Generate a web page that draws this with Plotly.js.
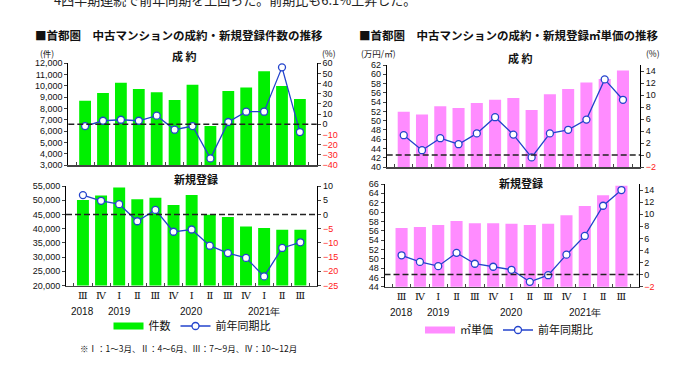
<!DOCTYPE html>
<html><head><meta charset="utf-8">
<script src="https://cdn.plot.ly/plotly-3.0.1.min.js"></script>
<style>html,body{margin:0;padding:0;background:#fff}#chart{width:679px;height:367px}</style>
</head><body><div id="chart"></div>
<script>
// ---- data ----
const categories = ["2018-III","2018-IV","2019-I","2019-II","2019-III","2019-IV","2020-I","2020-II","2020-III","2020-IV","2021-I","2021-II","2021-III"];
const quarterLabels = ["Ⅲ","Ⅳ","Ⅰ","Ⅱ","Ⅲ","Ⅳ","Ⅰ","Ⅱ","Ⅲ","Ⅳ","Ⅰ","Ⅱ","Ⅲ"];
const yearLabels = ["2018","","2019","","","","2020","","","","2021年","",""];

const contractCount    = [8690, 9370, 10280, 9720, 9430, 8750, 10100, 6450, 9550, 9850, 11300, 10000, 8850];
const contractCountYoY = [-1.7, 3.5, 4.5, 3.5, 8.5, -5.3, -1.7, -33.5, 2.3, 12.4, 12.4, 56.0, -7.6];
const listingCount     = [50100, 51700, 54500, 50300, 50900, 48300, 51800, 44900, 44100, 40750, 40250, 39650, 39600];
const listingCountYoY  = [6.8, 4.8, 3.6, -2.4, 1.6, -6.1, -5.3, -11.0, -13.6, -15.3, -21.8, -11.8, -9.8];
const contractPrice    = [51.9, 51.3, 53.1, 52.7, 53.8, 54.5, 54.9, 52.3, 55.7, 56.8, 58.2, 59.0, 60.8];
const contractPriceYoY = [3.3, 0.8, 2.8, 1.8, 3.6, 6.3, 3.4, -0.4, 3.6, 4.2, 5.9, 12.6, 9.2];
const listingPrice     = [56.6, 56.8, 57.2, 58.1, 57.6, 57.6, 57.5, 57.2, 57.5, 59.3, 61.3, 63.6, 65.6];
const listingPriceYoY  = [3.2, 2.1, 1.4, 3.6, 1.8, 1.3, 0.8, -1.2, -0.1, 3.3, 6.4, 11.4, 14.0];

// ---- styles ----
const GREEN = '#00f000', PINK = '#ff8cff', BLUE = '#2343cc';
const JP = '"Noto Sans CJK JP", "Noto Sans", sans-serif';
const NUM = '"Liberation Sans", Arial, sans-serif';
const W = 679, H = 367;
const px = v => v / W, py = v => (H - v) / H;

function range(a, b, s) { const r = []; for (let v = a; v <= b + 1e-9; v += s) r.push(+v.toFixed(6)); return r; }
function pctTicks(vals) {
  return vals.map(v => v < 0 ? '<span style="color:#ff2020">\u2212' + Math.abs(v) + '</span>' : String(v));
}
function barTrace(y, xa, ya, color) {
  return {type:'bar', x:categories, y:y, xaxis:xa, yaxis:ya, marker:{color:color, line:{width:0}}, width:0.66, showlegend:false, hoverinfo:'skip'};
}
function lineTrace(y, xa, ya, legend, show) {
  return {type:'scatter', mode:'lines+markers', x:categories, y:y, xaxis:xa, yaxis:ya, name:'前年同期比',
    line:{color:BLUE, width:1.3}, marker:{symbol:'circle', size:7, color:'#fff', line:{color:BLUE, width:1.3}},
    showlegend:show, legend:legend, cliponaxis:false};
}
function legendSwatch(name, color, legend) {
  return {type:'scatter', mode:'lines', x:[null], y:[null], xaxis:'x', yaxis:'y', name:name,
    line:{color:color, width:7}, showlegend:true, legend:legend};
}

const traces = [
  barTrace(contractCount, 'x', 'y', GREEN),
  lineTrace(contractCountYoY, 'x', 'y2', 'legend', false),
  barTrace(listingCount, 'x2', 'y3', GREEN),
  lineTrace(listingCountYoY, 'x2', 'y4', 'legend', false),
  barTrace(contractPrice, 'x3', 'y5', PINK),
  lineTrace(contractPriceYoY, 'x3', 'y6', 'legend2', false),
  barTrace(listingPrice, 'x4', 'y7', PINK),
  lineTrace(listingPriceYoY, 'x4', 'y8', 'legend2', false),
  legendSwatch('件数', GREEN, 'legend'),
  Object.assign(lineTrace([null], 'x', 'y2', 'legend', true), {x:[null]}),
  legendSwatch('㎡単価', PINK, 'legend2'),
  Object.assign(lineTrace([null], 'x3', 'y6', 'legend2', true), {x:[null]})
];

const tickFont = {family: NUM, size: 9, color: '#111'};
function xAxis(domain, anchor, showLabels) {
  return {type:'category', domain:domain, anchor:anchor, showgrid:false, zeroline:false,
    showline:true, linecolor:'#444', linewidth:1.5, ticks:'inside', ticklen:3, tickcolor:'#444', tickson:'boundaries',
    tickmode:'array', tickvals:categories, ticktext:quarterLabels, showticklabels:showLabels, tickangle:0,
    tickfont:{family:'"DejaVu Serif", "Liberation Serif", serif', size:10, color:'#111'}, fixedrange:true};
}
function yLeft(domain, anchor, r, dtick, fmt) {
  return {domain:domain, anchor:anchor, range:r, tickmode:'linear', tick0:r[0], dtick:dtick, tickformat:fmt,
    showgrid:false, zeroline:false, showline:true, linecolor:'#000', linewidth:1, ticks:'outside', ticklen:3,
    tickfont:tickFont, fixedrange:true};
}
function yRight(over, anchor, r, vals) {
  return {overlaying:over, anchor:anchor, side:'right', range:r, tickmode:'array', tickvals:vals, ticktext:pctTicks(vals),
    showgrid:false, zeroline:false, showline:true, linecolor:'#000', linewidth:1, ticks:'outside', ticklen:3,
    tickfont:tickFont, fixedrange:true};
}

const layout = {
  width: W, height: H, margin:{l:0, r:0, t:0, b:0}, paper_bgcolor:'#fff', plot_bgcolor:'rgba(0,0,0,0)',
  font:{family: JP, color:'#111'},
  bargap: 0.34,
  xaxis:  xAxis([px(68.3), px(316.7)], 'y', false),
  yaxis:  yLeft([py(165), py(63.3)], 'x', [3000, 12000], 1000, ',d'),
  yaxis2: yRight('y', 'x', [-40, 60], range(-40, 60, 10)),
  xaxis2: xAxis([px(66), px(317.3)], 'y3', true),
  yaxis3: yLeft([py(285.5), py(186)], 'x2', [20000, 55000], 5000, ',d'),
  yaxis4: yRight('y3', 'x2', [-25, 10], range(-25, 10, 5)),
  xaxis3: xAxis([px(386.7), px(640)], 'y5', false),
  yaxis5: yLeft([py(167), py(65)], 'x3', [40, 62], 2, 'd'),
  yaxis6: yRight('y5', 'x3', [-2, 15], range(-2, 14, 2)),
  xaxis4: xAxis([px(384.5), px(638.5)], 'y7', true),
  yaxis7: yLeft([py(286.7), py(184)], 'x4', [44, 66], 2, 'd'),
  yaxis8: yRight('y7', 'x4', [-2, 15], range(-2, 14, 2)),
  legend:  {orientation:'h', x:px(192), xanchor:'center', y:py(326), yanchor:'middle', font:{family:JP, size:11, color:'#111'}, itemwidth:30, bgcolor:'rgba(0,0,0,0)'},
  legend2: {orientation:'h', x:px(509), xanchor:'center', y:py(330), yanchor:'middle', font:{family:JP, size:11, color:'#111'}, itemwidth:30, bgcolor:'rgba(0,0,0,0)'},
  shapes: [
    ['x','y2'], ['x2','y4'], ['x3','y6'], ['x4','y8']
  ].map(([xa, ya]) => ({type:'line', xref: xa + ' domain', x0:0, x1:1, yref:ya, y0:0, y1:0,
    line:{color:'#222', width:1.5, dash:'6px,3px'}, layer:'above'})),
  annotations: []
};

const ann = layout.annotations;
function text(t, x, y, opts) {
  ann.push(Object.assign({text:t, xref:'paper', yref:'paper', x:px(x), y:py(y), showarrow:false,
    xanchor:'center', yanchor:'middle', font:{family:JP, size:11, color:'#111'}}, opts || {}));
}
// partially visible sentence at top
text('4四半期連続で前年同期を上回った。前期比も6.1%上昇した。', 52, -1, {xanchor:'left', font:{family:JP, size:13, color:'#222'}});
// titles
text('<b>■首都圏　中古マンションの成約・新規登録件数の推移</b>', 33, 35, {xanchor:'left', font:{family:JP, size:11.5, color:'#111'}});
text('<b>■首都圏　中古マンションの成約・新規登録㎡単価の推移</b>', 357, 35, {xanchor:'left', font:{family:JP, size:11.5, color:'#111'}});
// unit labels
text('(件)', 47, 53, {font:{family:JP, size:8.5, color:'#111'}});
text('(%)', 329, 53, {font:{family:JP, size:8.5, color:'#111'}});
text('(万円/㎡)', 378, 53, {font:{family:JP, size:8.5, color:'#111'}});
text('(%)', 653, 53, {font:{family:JP, size:8.5, color:'#111'}});
// sub titles
text('<b>成 約</b>', 185, 56, {font:{family:JP, size:11, color:'#111'}});
text('<b>新規登録</b>', 196, 179, {font:{family:JP, size:11, color:'#111'}});
text('<b>成 約</b>', 520, 58, {font:{family:JP, size:11, color:'#111'}});
text('<b>新規登録</b>', 521, 183, {font:{family:JP, size:11, color:'#111'}});
// note
text('※Ⅰ：1～3月、Ⅱ：4～6月、Ⅲ：7～9月、Ⅳ：10～12月', 188, 348, {font:{family:JP, size:8.5, color:'#111'}});
// year labels under the category axes
[['x2', 311], ['x4', 312]].forEach(([xa, yy]) => {
  categories.forEach((c, i) => {
    if (yearLabels[i]) ann.push({text:yearLabels[i], xref:xa, x:c, yref:'paper', y:py(yy), showarrow:false,
      xanchor:'center', yanchor:'middle', font:{family:NUM, size:10, color:'#111'}});
  });
});

Plotly.newPlot('chart', traces, layout, {displayModeBar:false, staticPlot:true});
</script>
</body></html>
